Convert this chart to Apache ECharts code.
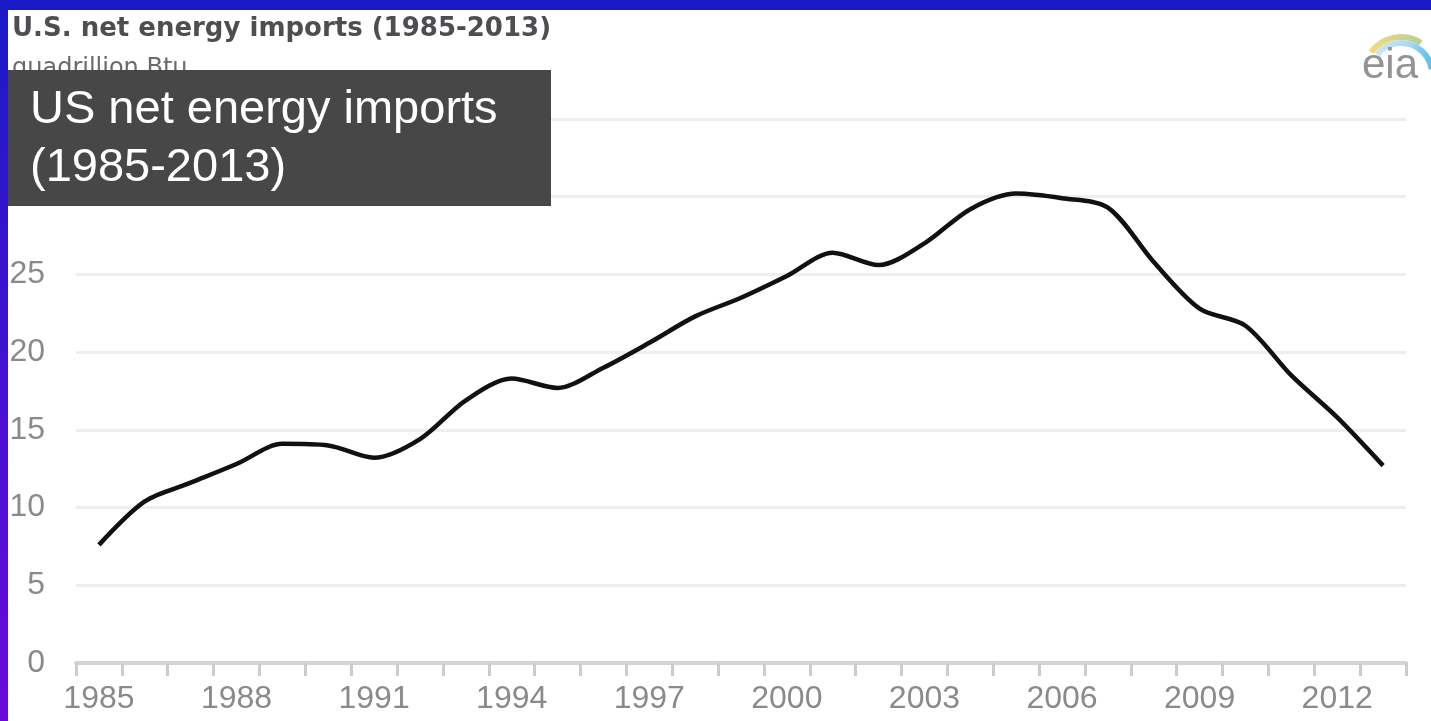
<!DOCTYPE html>
<html>
<head>
<meta charset="utf-8">
<title>U.S. net energy imports (1985-2013)</title>
<script src="https://cdn.jsdelivr.net/npm/echarts@6.0.0/dist/echarts.min.js"></script>
<style>
  html, body { margin: 0; padding: 0; background: #ffffff; }
  #chart { width: 1431px; height: 721px; }
</style>
</head>
<body>
<div id="chart"></div>
<script>
// Years on the horizontal axis
const years = ['1985','1986','1987','1988','1989','1990','1991','1992','1993','1994',
               '1995','1996','1997','1998','1999','2000','2001','2002','2003','2004',
               '2005','2006','2007','2008','2009','2010','2011','2012','2013'];

// Net energy imports, quadrillion Btu
const netImports = [7.6, 10.4, 11.6, 12.8, 14.1, 14.0, 13.2, 14.4, 16.9, 18.3,
                    17.7, 19.0, 20.6, 22.3, 23.5, 24.9, 26.4, 25.6, 27.0, 29.2,
                    30.2, 29.9, 29.3, 25.8, 22.8, 21.7, 18.5, 15.8, 12.7];

const titleText = 'U.S. net energy imports (1985-2013)';
const unitText = 'quadrillion Btu';
const bannerLines = ['US net energy imports', '(1985-2013)'];
const logoText = 'eia';

const chart = echarts.init(document.getElementById('chart'), null, { renderer: 'canvas' });

const option = {
  backgroundColor: '#ffffff',
  animation: false,
  title: {
    text: titleText,
    subtext: unitText,
    left: 12,
    top: 16,
    padding: 0,
    itemGap: 15,
    textStyle: {
      fontFamily: 'DejaVu Sans',
      fontWeight: 'bold',
      fontSize: 26,
      color: '#4e4e52'
    },
    subtextStyle: {
      fontFamily: 'DejaVu Sans',
      fontSize: 24,
      color: '#6a6a6e'
    }
  },
  grid: { left: 76, right: 25, top: 119, bottom: 58 },
  xAxis: {
    type: 'category',
    data: years,
    boundaryGap: true,
    axisLine: { show: true, lineStyle: { color: '#d4d4d4', width: 4 } },
    axisTick: { show: true, interval: 0, length: 13, lineStyle: { color: '#cccccc', width: 3 } },
    axisLabel: {
      interval: 2,
      margin: 20,
      fontFamily: 'Liberation Sans',
      fontSize: 32,
      color: '#8a8a8a'
    },
    splitLine: { show: false }
  },
  yAxis: {
    type: 'value',
    min: 0,
    max: 35,
    interval: 5,
    axisLine: { show: false },
    axisTick: { show: false },
    axisLabel: {
      margin: 31,
      fontFamily: 'Liberation Sans',
      fontSize: 32,
      color: '#8a8a8a'
    },
    splitLine: { show: true, lineStyle: { color: '#eeeeee', width: 3 } }
  },
  series: [{
    type: 'line',
    data: netImports,
    smooth: 0.3,
    symbol: 'none',
    lineStyle: { color: '#111111', width: 4.5 },
    z: 3
  }],
  graphic: [
    // blue frame along the top and left edges
    {
      type: 'rect', z: 200,
      shape: { x: 0, y: 0, width: 1431, height: 10 },
      style: { fill: '#1a1ac6' }
    },
    {
      type: 'rect', z: 200,
      shape: { x: 0, y: 0, width: 8, height: 721 },
      style: {
        fill: new echarts.graphic.LinearGradient(0, 0, 0, 1, [
          { offset: 0, color: '#1a1ac6' },
          { offset: 1, color: '#6a0ad8' }
        ])
      }
    },
    // dark caption banner
    {
      type: 'rect', z: 150,
      shape: { x: 8, y: 70, width: 543, height: 136 },
      style: { fill: '#474747' }
    },
    {
      type: 'text', z: 151,
      x: 30, y: 110,
      style: {
        text: bannerLines[0],
        font: '47px "Liberation Sans", Arial, sans-serif',
        fill: '#ffffff',
        verticalAlign: 'middle'
      }
    },
    {
      type: 'text', z: 151,
      x: 30, y: 168,
      style: {
        text: bannerLines[1],
        font: '47px "Liberation Sans", Arial, sans-serif',
        fill: '#ffffff',
        verticalAlign: 'middle'
      }
    },
    // eia logo: arcs over the lettering
    {
      type: 'arc', z: 120,
      shape: { cx: 1401, cy: 74, r: 37, startAngle: Math.PI * 1.2, endAngle: Math.PI * 1.68 },
      style: {
        fill: 'none',
        lineWidth: 6,
        stroke: new echarts.graphic.LinearGradient(0, 0, 1, 0, [
          { offset: 0, color: '#f6dc7c' },
          { offset: 1, color: '#b4cf98' }
        ])
      }
    },
    {
      type: 'arc', z: 121,
      shape: { cx: 1401, cy: 74, r: 31, startAngle: Math.PI * 1.22, endAngle: Math.PI * 1.95 },
      style: {
        fill: 'none',
        lineWidth: 6,
        stroke: new echarts.graphic.LinearGradient(0, 0, 1, 0, [
          { offset: 0, color: '#cfe8f2' },
          { offset: 0.6, color: '#a8d8f2' },
          { offset: 1, color: '#4fb8ec' }
        ])
      }
    },
    {
      type: 'text', z: 122,
      x: 1362, y: 66,
      style: {
        text: logoText,
        font: '42px "Liberation Sans", Arial, sans-serif',
        fill: '#939393',
        verticalAlign: 'middle'
      }
    }
  ]
};

chart.setOption(option);
</script>
</body>
</html>
